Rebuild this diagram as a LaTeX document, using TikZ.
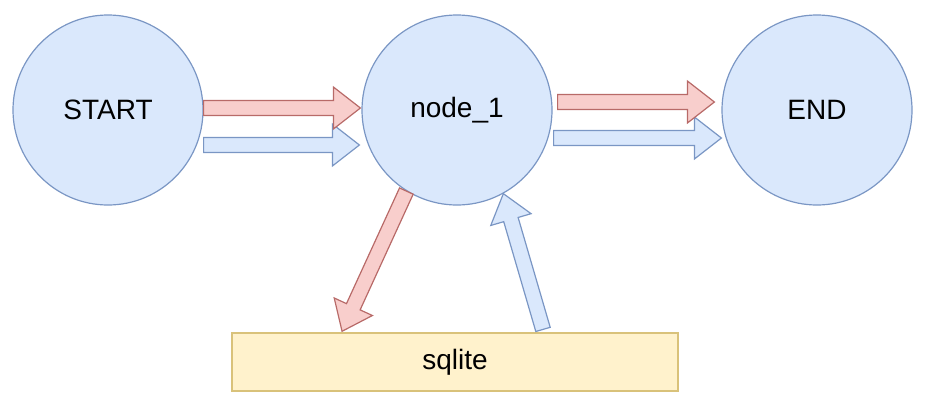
\documentclass[tikz,border=0pt]{standalone}
\usepackage{fontspec}
\setmainfont{Liberation Sans}
\usetikzlibrary{calc,positioning}
\definecolor{bluefill}{HTML}{DAE8FC}
\definecolor{bluedraw}{HTML}{7A96C4}
\definecolor{redfill}{HTML}{F8CECC}
\definecolor{reddraw}{HTML}{B86A68}
\definecolor{yellowfill}{HTML}{FFF2CC}
\definecolor{yellowdraw}{HTML}{D9C27A}

% block arrow from #2 to #3, style #1
\newcommand{\fatarrow}[3]{%
  \path[#1] let \p1=(#2), \p2=(#3),
    \n1={atan2(\y2-\y1,\x2-\x1)}, \n2={veclen(\x2-\x1,\y2-\y1)},
    \n3={\n2-13.5pt} in
    [shift={(\p1)}, rotate=\n1]
    (0pt,-3.75pt) -- (\n3,-3.75pt) -- (\n3,-10.5pt) -- (\n2,0pt)
    -- (\n3,10.5pt) -- (\n3,3.75pt) -- (0pt,3.75pt) -- cycle;}

\begin{document}
\begin{tikzpicture}[x=0.5pt, y=-0.5pt,
  state/.style={circle, draw=bluedraw, fill=bluefill, minimum size=95pt,
    inner sep=0pt, line width=0.6pt, font=\fontsize{14}{17}\selectfont},
  store/.style={rectangle, draw=yellowdraw, fill=yellowfill, minimum width=223pt,
    minimum height=29pt, line width=0.6pt, font=\fontsize{14}{17}\selectfont},
  redarrow/.style={draw=reddraw, fill=redfill, line width=0.6pt, line join=miter},
  bluearrow/.style={draw=bluedraw, fill=bluefill, line width=0.6pt, line join=miter}
]
\useasboundingbox (0,0) rectangle (926,408);

% States
\node[state] (start) at (108,110) {START};
\node[state] (node1) at (457,110) {node\_1};
\node[state] (end) at (817,110) {END};

% Storage
\node[store] (sqlite) at (455,362) {sqlite};

% Arrow end points
\coordinate (a1s) at ($(start.east)+(0,-2)$);
\coordinate (a1e) at ($(node1.west)+(-1,-2)$);
\coordinate (b1s) at ($(start.east)+(0,35)$);
\coordinate (b1e) at ($(node1.west)+(-2,35)$);
\coordinate (a2s) at ($(node1.east)+(5,-8)$);
\coordinate (a2e) at ($(end.west)+(-7,-8)$);
\coordinate (b2s) at ($(node1.east)+(1,28)$);
\coordinate (b2e) at ($(end.west)+(0,28)$);
\coordinate (a3e) at ($(sqlite.north)+(-113,-1)$);
\coordinate (b3s) at ($(sqlite.north)+(88,-3)$);

% Arrows
\fatarrow{bluearrow}{b1s}{b1e}
\fatarrow{redarrow}{a1s}{a1e}
\fatarrow{bluearrow}{b2s}{b2e}
\fatarrow{redarrow}{a2s}{a2e}
\fatarrow{redarrow}{node1.238}{a3e}
\fatarrow{bluearrow}{b3s}{node1.299}

\end{tikzpicture}
\end{document}
